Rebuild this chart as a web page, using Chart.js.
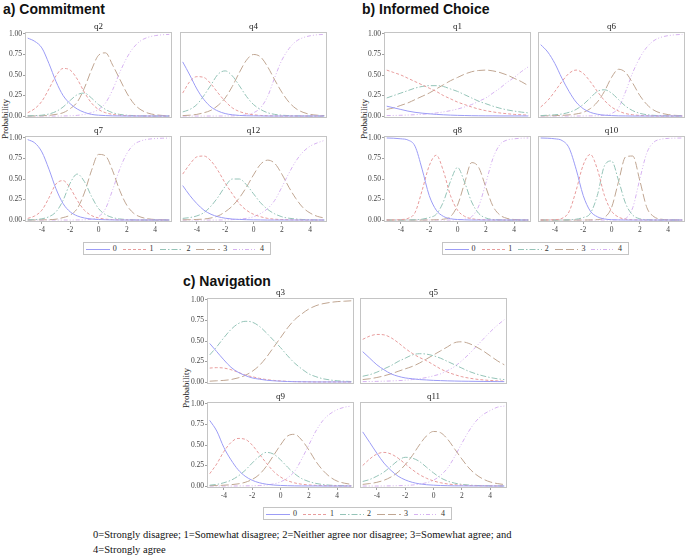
<!DOCTYPE html>
<html>
<head>
<meta charset="utf-8">
<script src="https://cdn.jsdelivr.net/npm/chart.js@4.4.1/dist/chart.umd.min.js"></script>
<style>
  body { margin: 0; background: #fff; width: 685px; height: 560px; position: relative; overflow: hidden; font-family: 'Liberation Serif', 'Times New Roman', serif; }
  canvas { position: absolute; }
  .ptitle { position: absolute; font: bold 14px 'Liberation Sans', Arial, sans-serif; line-height: 16px; color: #111; white-space: nowrap; }
  .ylab { position: absolute; font-size: 9px; color: #222; white-space: nowrap; transform: translate(-50%, -50%) rotate(-90deg); }
  .legend { position: absolute; height: 13px; border: 1px solid #c4c4c4; box-sizing: border-box; display: flex; align-items: center; padding-left: 2px; font-size: 8px; color: #333; }
  .legend svg { margin-right: 3px; }
  .legend span { margin-right: 6px; }
  .note { position: absolute; left: 93px; top: 527px; font-size: 10.5px; line-height: 15px; color: #111; white-space: nowrap; }
</style>
</head>
<body>
<div class="ptitle" style="left:3px;top:1px">a) Commitment</div>
<div class="ptitle" style="left:362px;top:1px">b) Informed Choice</div>
<div class="ptitle" style="left:183px;top:273px">c) Navigation</div>
<div class="ylab" style="left:5px;top:119px">Probability</div>
<div class="ylab" style="left:364px;top:119px">Probability</div>
<div class="ylab" style="left:186px;top:388px">Probability</div>
<div class="legend" id="legA" style="left:83px;top:242px;width:188px"></div>
<div class="legend" id="legB" style="left:442px;top:242px;width:187px"></div>
<div class="legend" id="legC" style="left:263px;top:507px;width:189px"></div>
<div class="note">0=Strongly disagree; 1=Somewhat disagree; 2=Neither agree nor disagree; 3=Somewhat agree; and<br>4=Strongly agree</div>
<script>
const xs = [-5, -4.5, -4, -3.5, -3, -2.5, -2, -1.5, -1, -0.5, 0, 0.5, 1, 1.5, 2, 2.5, 3, 3.5, 4, 4.5, 5];
const categories = ['0', '1', '2', '3', '4'];
const xTicks = [-4, -2, 0, 2, 4];
const yTicks = [0, 0.25, 0.5, 0.75, 1];

// a) Commitment
const q2 = [
  [0.95,0.91,0.83,0.64,0.42,0.25,0.15,0.085,0.045,0.02,0.01,0.005,0.002,0.001,0,0,0,0,0,0,0],
  [0.04,0.09,0.18,0.33,0.49,0.58,0.56,0.45,0.29,0.16,0.08,0.04,0.02,0.009,0.004,0.002,0.001,0,0,0,0],
  [0.002,0.005,0.01,0.025,0.055,0.11,0.19,0.26,0.28,0.22,0.14,0.08,0.04,0.02,0.01,0.005,0.002,0.001,0,0,0],
  [0,0.001,0.003,0.008,0.02,0.04,0.09,0.17,0.34,0.56,0.74,0.77,0.62,0.45,0.28,0.15,0.075,0.035,0.016,0.007,0.003],
  [0,0,0,0,0,0.001,0.003,0.008,0.02,0.04,0.08,0.16,0.32,0.53,0.71,0.84,0.92,0.96,0.98,0.99,0.995]
];
const q4 = [
  [0.66,0.5,0.33,0.2,0.11,0.06,0.03,0.015,0.007,0.003,0.002,0.001,0,0,0,0,0,0,0,0,0],
  [0.28,0.42,0.48,0.47,0.39,0.28,0.18,0.1,0.055,0.03,0.015,0.007,0.003,0.001,0,0,0,0,0,0,0],
  [0.05,0.08,0.14,0.25,0.38,0.51,0.55,0.49,0.37,0.24,0.14,0.08,0.04,0.02,0.01,0.005,0.002,0.001,0,0,0],
  [0.005,0.01,0.02,0.04,0.07,0.13,0.22,0.36,0.53,0.68,0.75,0.72,0.6,0.44,0.29,0.17,0.09,0.045,0.02,0.01,0.005],
  [0,0,0,0,0,0,0.001,0.002,0.005,0.015,0.04,0.1,0.24,0.47,0.68,0.82,0.91,0.955,0.978,0.99,0.995]
];
const q7 = [
  [0.98,0.94,0.83,0.62,0.38,0.2,0.1,0.05,0.025,0.012,0.006,0.003,0.001,0,0,0,0,0,0,0,0],
  [0.02,0.05,0.12,0.27,0.44,0.48,0.39,0.24,0.12,0.055,0.025,0.01,0.005,0.002,0.001,0,0,0,0,0,0],
  [0.002,0.005,0.015,0.04,0.1,0.24,0.45,0.56,0.47,0.29,0.14,0.065,0.03,0.013,0.006,0.002,0.001,0,0,0,0],
  [0,0.001,0.002,0.004,0.01,0.03,0.06,0.14,0.33,0.6,0.8,0.78,0.6,0.36,0.18,0.08,0.035,0.015,0.006,0.003,0.001],
  [0,0,0,0,0,0,0,0.001,0.003,0.01,0.04,0.14,0.37,0.62,0.81,0.92,0.965,0.985,0.993,0.997,0.999]
];
const q12 = [
  [0.42,0.3,0.2,0.12,0.07,0.04,0.022,0.012,0.007,0.004,0.002,0.001,0,0,0,0,0,0,0,0,0],
  [0.56,0.68,0.77,0.78,0.72,0.6,0.45,0.32,0.2,0.12,0.07,0.04,0.02,0.01,0.006,0.003,0.001,0,0,0,0],
  [0.02,0.03,0.05,0.09,0.17,0.28,0.41,0.5,0.5,0.43,0.32,0.21,0.13,0.075,0.04,0.022,0.012,0.006,0.003,0.001,0],
  [0.002,0.004,0.007,0.012,0.025,0.05,0.1,0.17,0.27,0.4,0.55,0.68,0.73,0.69,0.56,0.4,0.26,0.15,0.085,0.045,0.025],
  [0,0,0,0,0,0,0.002,0.005,0.01,0.02,0.04,0.08,0.14,0.24,0.4,0.57,0.72,0.83,0.9,0.94,0.97]
];

// b) Informed Choice
const q1 = [
  [0.12,0.1,0.08,0.06,0.045,0.035,0.027,0.02,0.015,0.011,0.008,0.006,0.004,0.003,0.002,0.002,0.001,0.001,0.001,0.001,0.001],
  [0.56,0.53,0.5,0.46,0.42,0.38,0.34,0.3,0.25,0.21,0.17,0.14,0.11,0.085,0.065,0.05,0.037,0.028,0.02,0.015,0.011],
  [0.22,0.25,0.28,0.31,0.34,0.36,0.37,0.37,0.36,0.33,0.3,0.26,0.22,0.18,0.15,0.12,0.095,0.075,0.06,0.048,0.038],
  [0.08,0.1,0.13,0.16,0.2,0.24,0.28,0.33,0.38,0.43,0.47,0.51,0.54,0.555,0.56,0.55,0.53,0.5,0.46,0.42,0.37],
  [0.005,0.007,0.009,0.012,0.016,0.021,0.028,0.037,0.05,0.065,0.085,0.11,0.14,0.18,0.22,0.28,0.34,0.41,0.47,0.54,0.6]
];
const q6 = [
  [0.87,0.78,0.64,0.46,0.3,0.17,0.09,0.045,0.022,0.01,0.005,0.002,0.001,0,0,0,0,0,0,0,0],
  [0.11,0.19,0.3,0.42,0.52,0.56,0.52,0.42,0.3,0.19,0.11,0.06,0.03,0.015,0.007,0.003,0.001,0,0,0,0],
  [0.005,0.01,0.015,0.025,0.045,0.08,0.14,0.22,0.3,0.32,0.28,0.2,0.12,0.065,0.033,0.016,0.008,0.004,0.002,0.001,0],
  [0.002,0.003,0.005,0.008,0.014,0.025,0.045,0.09,0.17,0.3,0.47,0.57,0.53,0.4,0.25,0.14,0.07,0.035,0.017,0.008,0.004],
  [0,0,0,0,0,0,0.001,0.002,0.003,0.01,0.03,0.1,0.3,0.53,0.71,0.84,0.92,0.96,0.98,0.99,0.995]
];
const q8 = [
  [1,0.997,0.99,0.975,0.9,0.62,0.3,0.12,0.045,0.016,0.006,0.002,0,0,0,0,0,0,0,0,0],
  [0,0.001,0.005,0.02,0.09,0.36,0.66,0.79,0.6,0.3,0.12,0.045,0.016,0.006,0.002,0,0,0,0,0,0],
  [0,0,0,0.001,0.003,0.01,0.03,0.07,0.22,0.47,0.64,0.46,0.22,0.08,0.025,0.007,0.002,0,0,0,0],
  [0,0,0,0,0,0,0.001,0.003,0.01,0.04,0.18,0.45,0.7,0.64,0.4,0.17,0.06,0.02,0.006,0.002,0],
  [0,0,0,0,0,0,0,0,0,0,0.003,0.01,0.04,0.17,0.45,0.75,0.92,0.975,0.99,0.997,1]
];
const q10 = [
  [1,0.997,0.99,0.97,0.88,0.62,0.3,0.11,0.04,0.013,0.004,0.001,0,0,0,0,0,0,0,0,0],
  [0,0.001,0.004,0.02,0.1,0.36,0.67,0.8,0.62,0.3,0.11,0.035,0.01,0.003,0.001,0,0,0,0,0,0],
  [0,0,0,0,0.002,0.01,0.03,0.08,0.3,0.66,0.72,0.48,0.2,0.06,0.015,0.004,0.001,0,0,0,0],
  [0,0,0,0,0,0,0,0.001,0.005,0.03,0.15,0.47,0.77,0.78,0.48,0.15,0.04,0.01,0.003,0.001,0],
  [0,0,0,0,0,0,0,0,0,0,0,0.003,0.02,0.15,0.5,0.82,0.95,0.985,0.995,0.998,1]
];

// c) Navigation
const q3 = [
  [0.47,0.37,0.27,0.18,0.12,0.08,0.05,0.035,0.022,0.015,0.01,0.006,0.004,0.003,0.002,0.001,0.001,0.001,0.001,0.001,0.001],
  [0.17,0.175,0.17,0.15,0.12,0.085,0.065,0.045,0.03,0.02,0.013,0.008,0.005,0.003,0.002,0.001,0.001,0.001,0.001,0.001,0.001],
  [0.33,0.43,0.54,0.64,0.71,0.74,0.73,0.68,0.6,0.51,0.42,0.32,0.23,0.16,0.1,0.065,0.04,0.025,0.015,0.01,0.006],
  [0.01,0.015,0.02,0.03,0.05,0.08,0.13,0.2,0.3,0.42,0.54,0.66,0.76,0.83,0.89,0.93,0.955,0.97,0.98,0.985,0.99],
  null
];
const q5 = [
  [0.37,0.29,0.21,0.15,0.1,0.07,0.05,0.04,0.03,0.025,0.02,0.017,0.014,0.012,0.01,0.009,0.008,0.007,0.006,0.005,0.005],
  [0.52,0.56,0.58,0.575,0.54,0.48,0.41,0.35,0.3,0.26,0.21,0.16,0.12,0.09,0.065,0.048,0.035,0.026,0.019,0.014,0.01],
  [0.07,0.09,0.12,0.16,0.2,0.25,0.29,0.33,0.345,0.34,0.32,0.29,0.25,0.21,0.17,0.13,0.1,0.075,0.055,0.04,0.03],
  [0.03,0.04,0.055,0.075,0.1,0.13,0.16,0.19,0.23,0.28,0.33,0.38,0.43,0.48,0.49,0.47,0.43,0.38,0.32,0.26,0.21],
  [0.005,0.006,0.008,0.01,0.013,0.017,0.022,0.03,0.04,0.055,0.075,0.1,0.14,0.19,0.26,0.34,0.43,0.52,0.61,0.69,0.76]
];
const q9 = [
  [0.8,0.67,0.47,0.32,0.2,0.12,0.07,0.04,0.022,0.012,0.007,0.004,0.002,0.001,0.001,0.001,0,0,0,0,0],
  [0.15,0.27,0.42,0.53,0.58,0.57,0.5,0.39,0.28,0.18,0.11,0.065,0.038,0.022,0.013,0.008,0.005,0.003,0.002,0.001,0.001],
  [0.01,0.02,0.04,0.07,0.12,0.19,0.28,0.36,0.41,0.39,0.32,0.23,0.15,0.09,0.055,0.032,0.018,0.01,0.006,0.004,0.003],
  [0.004,0.006,0.01,0.016,0.026,0.045,0.08,0.14,0.24,0.37,0.5,0.61,0.63,0.56,0.44,0.3,0.19,0.11,0.06,0.035,0.02],
  [0,0,0,0,0.001,0.002,0.003,0.006,0.012,0.025,0.05,0.1,0.18,0.33,0.5,0.67,0.8,0.88,0.93,0.96,0.975]
];
const q11 = [
  [0.66,0.53,0.4,0.28,0.19,0.12,0.075,0.045,0.027,0.016,0.01,0.006,0.004,0.002,0.002,0.001,0.001,0.001,0,0,0],
  [0.25,0.33,0.39,0.41,0.39,0.34,0.27,0.2,0.14,0.095,0.062,0.04,0.025,0.016,0.01,0.006,0.004,0.003,0.002,0.001,0.001],
  [0.055,0.08,0.12,0.17,0.24,0.31,0.35,0.34,0.3,0.23,0.16,0.1,0.06,0.035,0.02,0.012,0.007,0.004,0.003,0.002,0.001],
  [0.02,0.03,0.045,0.07,0.11,0.17,0.26,0.37,0.5,0.61,0.665,0.65,0.57,0.45,0.33,0.22,0.14,0.085,0.05,0.03,0.018],
  [0,0,0,0.001,0.002,0.004,0.007,0.012,0.022,0.04,0.07,0.13,0.22,0.36,0.52,0.67,0.79,0.87,0.92,0.96,0.975]
];

const lineColors = ['#9c9cf6', '#e89c9c', '#95c4b8', '#c0a692', '#d6b2f1'];
const lineDashes = [[], [3, 2], [6, 2, 1.5, 2], [8, 3], [4, 2, 1, 2, 1, 2]];
const serif = "'Liberation Serif', 'Times New Roman', serif";

// light grey box round each plot area
const framePlugin = {
  id: 'frame',
  afterDraw(chart) {
    const { ctx, chartArea: a } = chart;
    ctx.save();
    ctx.strokeStyle = '#c4c4c4';
    ctx.lineWidth = 1;
    ctx.strokeRect(a.left - 0.5, a.top - 0.5, a.right - a.left + 1, a.bottom - a.top + 1);
    ctx.restore();
  }
};

function drawPanel(name, values, L, T, showY, showX) {
  const W = 145, H = 84, th = 12;
  const yw = showY ? 30 : 2;
  const xh = showX ? 16 : 6;
  const c = document.createElement('canvas');
  c.width = W + yw + 1;
  c.height = th + H + xh;
  c.style.left = (L - yw) + 'px';
  c.style.top = (T - th) + 'px';
  document.body.appendChild(c);

  const datasets = [];
  values.forEach((arr, k) => {
    if (!arr) return;
    datasets.push({
      label: categories[k],
      data: xs.map((x, i) => ({ x: x, y: arr[i] })),
      borderColor: lineColors[k],
      borderDash: lineDashes[k],
      borderWidth: 1,
      pointRadius: 0,
      fill: false,
      cubicInterpolationMode: 'monotone'
    });
  });

  new Chart(c, {
    type: 'line',
    data: { datasets },
    plugins: [framePlugin],
    options: {
      responsive: false,
      animation: false,
      devicePixelRatio: 1,
      events: [],
      layout: { padding: { left: 0, right: 1, top: 0, bottom: 0 } },
      plugins: {
        legend: { display: false },
        tooltip: { enabled: false },
        title: {
          display: true, text: name, fullSize: false, color: '#222',
          font: { family: serif, size: 9, weight: 'normal', lineHeight: '11px' },
          padding: { top: 0, bottom: 1 }
        }
      },
      scales: {
        x: {
          type: 'linear', min: -5.12, max: 5.12,
          afterBuildTicks: s => { s.ticks = xTicks.map(v => ({ value: v })); },
          afterFit: s => { s.height = xh; s.paddingLeft = 0; s.paddingRight = 0; },
          border: { display: false },
          grid: { display: showX, drawOnChartArea: false, tickLength: 3, color: '#a0a0a0' },
          ticks: { display: showX, padding: 2, color: '#444', maxRotation: 0, autoSkip: false,
                   font: { family: serif, size: 7.5 }, callback: v => String(v) }
        },
        y: {
          min: -0.012, max: 1.012,
          afterBuildTicks: s => { s.ticks = yTicks.map(v => ({ value: v })); },
          afterFit: s => { s.width = yw; s.paddingTop = 0; s.paddingBottom = 0; },
          border: { display: false },
          grid: { display: showY, drawOnChartArea: false, tickLength: 3, color: '#a0a0a0' },
          ticks: { display: showY, padding: 1, color: '#444', autoSkip: false,
                   font: { family: serif, size: 7.5 }, callback: v => v.toFixed(2) }
        }
      }
    }
  });
}

drawPanel('q2', q2, 26, 33, true, false);
drawPanel('q4', q4, 181, 33, false, false);
drawPanel('q7', q7, 26, 137, true, true);
drawPanel('q12', q12, 181, 137, false, true);

drawPanel('q1', q1, 385, 33, true, false);
drawPanel('q6', q6, 539, 33, false, false);
drawPanel('q8', q8, 385, 137, true, true);
drawPanel('q10', q10, 539, 137, false, true);

drawPanel('q3', q3, 208, 299, true, false);
drawPanel('q5', q5, 361, 299, false, false);
drawPanel('q9', q9, 208, 403, true, true);
drawPanel('q11', q11, 361, 403, false, true);

// shared legends under each group
const dashAttr = ['', '3,2', '6,2,1.5,2', '8,3', '4,2,1,2,1,2'];
['legA', 'legB', 'legC'].forEach(id => {
  const el = document.getElementById(id);
  el.innerHTML = categories.map((cat, k) =>
    `<svg width="24" height="6"><line x1="0" y1="3.5" x2="24" y2="3.5" stroke="${lineColors[k]}" stroke-width="1" stroke-dasharray="${dashAttr[k]}"/></svg><span>${cat}</span>`
  ).join('');
});
</script>
</body>
</html>
